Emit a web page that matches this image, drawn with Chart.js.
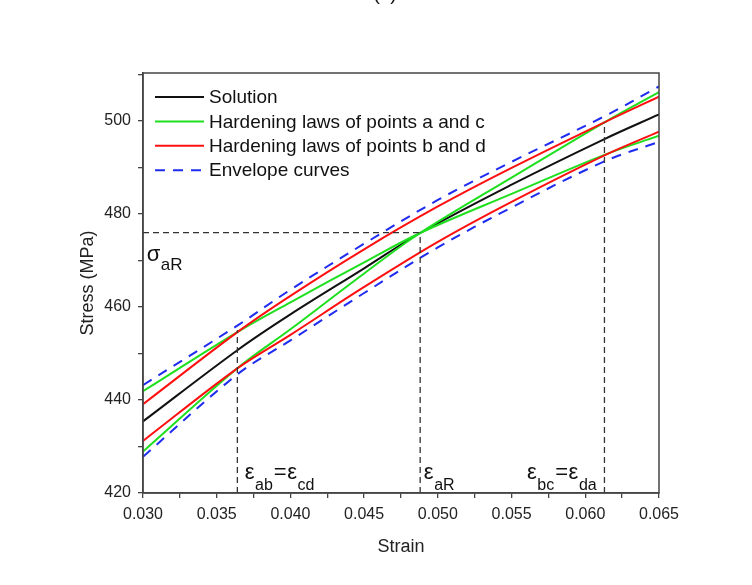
<!DOCTYPE html>
<html lang="en">
<head>
    <meta charset="UTF-8">
    <title>Stress vs Strain</title>
    <style>
        body {
            margin: 0;
            background-color: #fff;
        }
        #wrap {
            width: 752px;
            height: 585px;
        }
    </style>
</head>
<body>
    <div id="wrap"><canvas id="chart" width="752" height="585"></canvas></div>

    <script src="https://cdn.jsdelivr.net/npm/chart.js"></script>
    <script>
        // strain positions where the crossing curves (solution, a/c) were read
        const strainCross = [0.030, 0.0364, 0.040, 0.045, 0.0488, 0.055, 0.0613, 0.065];
        // strain positions where the b/d laws and envelopes were read
        const strainEnv = [0.030, 0.0364, 0.040, 0.045, 0.050, 0.055, 0.0613, 0.065];

        const solution = [435.4, 450.7, 458.4, 468.3, 475.9, 486.3, 496.1, 501.4];
        const lawA = [441.9, 454.6, 461.0, 469.6, 475.9, 484.3, 492.7, 496.8];
        const lawC = [428.9, 446.8, 455.2, 467.2, 475.9, 487.8, 499.7, 506.2];
        const lawB = [439.1, 454.6, 462.4, 472.4, 481.6, 489.9, 499.7, 505.2];
        const lawD = [431.2, 446.8, 454.0, 464.3, 474.0, 482.6, 492.6, 497.7];
        const envUpper = [443.2, 456.0, 463.7, 473.6, 483.0, 491.2, 501.0, 507.4];
        const envLower = [427.8, 445.5, 452.8, 463.0, 472.8, 481.4, 491.3, 495.5];

        // reference points
        const sigmaAR = 476;
        const epsAB = 0.0364;
        const epsAR = 0.0488;
        const epsBC = 0.0613;
        const stressAB = 455.0;
        const stressBC = 499.7;

        const legendNames = ['Solution', 'Hardening laws of points a and c', 'Hardening laws of points b and d', 'Envelope curves'];

        const GREEN = '#1ee01e';
        const RED = '#ff1010';
        const BLUE = '#1f2cf0';
        const FONT = '"Liberation Sans", Arial, sans-serif';

        function pts(xs, ys) {
            return xs.map((x, i) => ({ x: x, y: ys[i] }));
        }

        function curve(xs, ys, color, dash) {
            return {
                data: pts(xs, ys),
                borderColor: color,
                borderWidth: 2,
                borderDash: dash || [],
                pointRadius: 0,
                fill: false,
                tension: 0.35
            };
        }

        function refLine(xs, ys) {
            return {
                data: pts(xs, ys),
                borderColor: '#333',
                borderWidth: 1.3,
                borderDash: [6, 4],
                pointRadius: 0,
                fill: false,
                tension: 0
            };
        }

        const datasets = [
            refLine([0.030, epsAR], [sigmaAR, sigmaAR]),
            refLine([epsAB, epsAB], [420, stressAB]),
            refLine([epsAR, epsAR], [420, sigmaAR]),
            refLine([epsBC, epsBC], [420, stressBC]),
            curve(strainEnv, envUpper, BLUE, [10, 8]),
            curve(strainEnv, envLower, BLUE, [10, 8]),
            curve(strainEnv, lawB, RED),
            curve(strainEnv, lawD, RED),
            curve(strainCross, lawA, GREEN),
            curve(strainCross, lawC, GREEN),
            curve(strainCross, solution, '#111')
        ];

        // draw a label made of normal and subscript parts
        function drawParts(ctx, parts, x, y, big, small, drop) {
            let cx = x;
            parts.forEach(p => {
                const sub = p[1];
                ctx.font = (sub ? small : big) + 'px ' + FONT;
                ctx.fillText(p[0], cx, sub ? y + drop : y);
                cx += ctx.measureText(p[0]).width + (sub ? 1 : 0.5);
            });
        }

        const extras = {
            id: 'extras',
            afterDraw(chart) {
                const ctx = chart.ctx;
                const area = chart.chartArea;
                const xs = chart.scales.x;
                const ys = chart.scales.y;
                ctx.save();

                // frame
                ctx.strokeStyle = '#444';
                ctx.lineWidth = 1.5;
                ctx.strokeRect(area.left, area.top, area.right - area.left, area.bottom - area.top);

                // legend
                const items = [
                    { color: '#111', dash: [] },
                    { color: GREEN, dash: [] },
                    { color: RED, dash: [] },
                    { color: BLUE, dash: [10, 8] }
                ];
                ctx.textBaseline = 'middle';
                ctx.fillStyle = '#111';
                ctx.font = '19px ' + FONT;
                items.forEach((it, i) => {
                    const y = 97 + i * 24.4;
                    ctx.strokeStyle = it.color;
                    ctx.lineWidth = 2;
                    ctx.setLineDash(it.dash);
                    ctx.beginPath();
                    ctx.moveTo(155, y);
                    ctx.lineTo(204, y);
                    ctx.stroke();
                    ctx.setLineDash([]);
                    ctx.fillText(legendNames[i], 209, y + 1);
                });

                // annotations
                ctx.textBaseline = 'alphabetic';
                ctx.fillStyle = '#111';
                drawParts(ctx, [['σ', false], ['aR', true]], xs.getPixelForValue(0.03025), ys.getPixelForValue(469.9), 22, 17, 9);
                drawParts(ctx, [['ε', false], ['ab', true], ['=', false], ['ε', false], ['cd', true]],
                    xs.getPixelForValue(0.03690), ys.getPixelForValue(423.0), 22, 16, 11);
                drawParts(ctx, [['ε', false], ['aR', true]], xs.getPixelForValue(0.04905), ys.getPixelForValue(423.0), 22, 16, 11);
                drawParts(ctx, [['ε', false], ['bc', true], ['=', false], ['ε', false], ['da', true]],
                    xs.getPixelForValue(0.05605), ys.getPixelForValue(423.0), 22, 16, 11);

                // cut-off panel label at the very top
                ctx.font = '19px ' + FONT;
                ctx.textAlign = 'center';
                ctx.fillText('(a)', 385, 0);
                ctx.restore();
            }
        };

        new Chart(document.getElementById('chart').getContext('2d'), {
            type: 'line',
            data: { datasets: datasets },
            options: {
                responsive: false,
                animation: false,
                layout: { padding: { left: 0, top: 73, right: 93, bottom: 0 } },
                plugins: {
                    legend: { display: false },
                    tooltip: { enabled: false }
                },
                scales: {
                    x: {
                        type: 'linear',
                        min: 0.030,
                        max: 0.065,
                        afterFit: s => { s.height = 92; },
                        ticks: {
                            stepSize: 0.0025,
                            autoSkip: false,
                            maxRotation: 0,
                            padding: 7,
                            color: '#222',
                            font: { family: FONT, size: 16 },
                            callback: v => (Math.round(v * 10000) % 50 === 0 ? v.toFixed(3) : '')
                        },
                        grid: { drawOnChartArea: false, drawTicks: true, tickLength: 5, color: '#444', lineWidth: 1.3 },
                        border: { display: true, color: '#444', width: 1.5 },
                        title: {
                            display: true,
                            text: 'Strain',
                            color: '#222',
                            font: { family: FONT, size: 18 },
                            padding: { top: 0, bottom: 27 }
                        }
                    },
                    y: {
                        min: 420,
                        max: 510.3,
                        afterFit: s => { s.width = 143; },
                        ticks: {
                            stepSize: 10,
                            includeBounds: false,
                            padding: 7,
                            color: '#222',
                            font: { family: FONT, size: 16 },
                            callback: v => (v % 20 === 0 ? String(v) : '')
                        },
                        grid: { drawOnChartArea: false, drawTicks: true, tickLength: 5, color: '#444', lineWidth: 1.3 },
                        border: { display: true, color: '#444', width: 1.5 },
                        title: {
                            display: true,
                            text: 'Stress (MPa)',
                            color: '#222',
                            font: { family: FONT, size: 18 },
                            padding: { top: 77, bottom: 0 }
                        }
                    }
                }
            },
            plugins: [extras]
        });
    </script>
</body>
</html>
